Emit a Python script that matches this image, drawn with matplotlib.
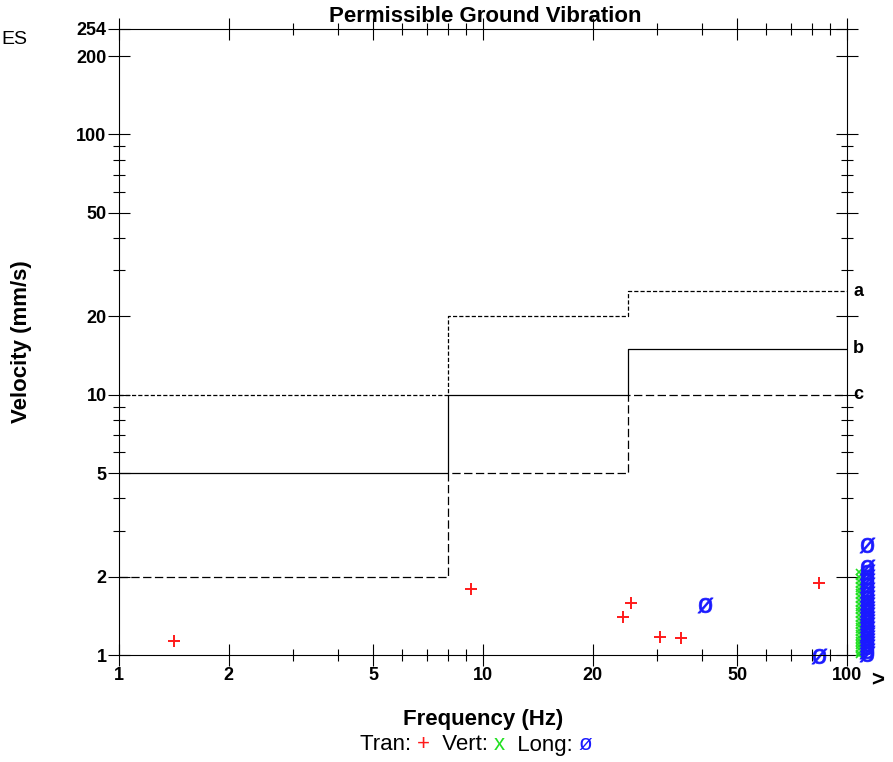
import numpy as np
import matplotlib
matplotlib.use("Agg")
import matplotlib.pyplot as plt
from matplotlib.ticker import FixedLocator, FixedFormatter, NullFormatter
from matplotlib.offsetbox import TextArea, HPacker, AnnotationBbox

plt.rcParams['font.family'] = ['Liberation Sans', 'DejaVu Sans']
plt.rcParams['lines.scale_dashes'] = False

# limit curves (step levels between breakpoints)
freq_breaks = [1, 8, 25, 100]
level_a = [10, 20, 25]
level_b = [5, 10, 15]
level_c = [2, 5, 10]

# measured peaks
tran_freq = [1.42, 9.25, 24.2, 25.5, 30.6, 35.0, 84.0]
tran_vel = [1.13, 1.80, 1.40, 1.58, 1.17, 1.16, 1.89]

long_freq = [40.7, 84.0]
long_vel = [1.56, 0.99]

# values above 100 Hz (drawn past the right edge)
vert_over_vel = [1.0, 1.02, 1.05, 1.08, 1.11, 1.14, 1.17, 1.21, 1.25, 1.29, 1.33,
                 1.37, 1.42, 1.47, 1.52, 1.57, 1.62, 1.68, 1.74, 1.80, 1.86, 1.93,
                 2.0, 2.08]
long_over_vel = [1.01, 1.04, 1.07, 1.10, 1.13, 1.16, 1.19, 1.22, 1.26, 1.30, 1.34,
                 1.38, 1.42, 1.46, 1.50, 1.55, 1.60, 1.66, 1.72, 1.78, 1.85, 1.92,
                 2.0, 2.08, 2.18, 2.64]

x_major = [1, 2, 5, 10, 20, 50, 100]
y_major = [1, 2, 5, 10, 20, 50, 100, 200, 254]
minor_ticks = [3, 4, 6, 7, 8, 9, 30, 40, 60, 70, 80, 90]

red = '#ff1a1a'
green = '#22e022'
blue = '#1a1aff'
o_slash = r'$\mathregular{ø}$'

W, H = 893, 762
fig = plt.figure(figsize=(W / 100, H / 100), dpi=100)
ax = fig.add_axes([119 / W, 1 - 655 / H, (847 - 119) / W, (655 - 29) / H])
ax.set_xscale('log')
ax.set_yscale('log')

def step_xy(levels):
    return freq_breaks, list(levels) + [levels[-1]]

xa, ya = step_xy(level_a)
ax.step(xa, ya, where='post', color='black', lw=0.9, dashes=(3, 1.5))
xb, yb = step_xy(level_b)
ax.step(xb, yb, where='post', color='black', lw=0.9)
xc, yc = step_xy(level_c)
ax.step(xc, yc, where='post', color='black', lw=0.9, dashes=(6, 2.5))

ax.plot(tran_freq, tran_vel, ls='none', marker='+', ms=9, mew=1.4, color=red, clip_on=False)
ax.plot(long_freq, long_vel, ls='none', marker=o_slash, ms=11, mew=0.5, color=blue,
        clip_on=False)
ax.plot([108] * len(vert_over_vel), vert_over_vel, ls='none', marker='x', ms=5, mew=1.2,
        color=green, clip_on=False)
ax.plot([113.5] * len(long_over_vel), long_over_vel, ls='none', marker=o_slash, ms=11,
        mew=0.5, color=blue, clip_on=False)

ax.set_xlim(1, 100)
ax.set_ylim(1, 254)

ax.xaxis.set_major_locator(FixedLocator(x_major))
ax.xaxis.set_major_formatter(FixedFormatter([f"{v:g}" for v in x_major]))
ax.xaxis.set_minor_locator(FixedLocator(minor_ticks))
ax.xaxis.set_minor_formatter(NullFormatter())
ax.yaxis.set_major_locator(FixedLocator(y_major))
ax.yaxis.set_major_formatter(FixedFormatter([f"{v:g}" for v in y_major]))
ax.yaxis.set_minor_locator(FixedLocator(minor_ticks))
ax.yaxis.set_minor_formatter(NullFormatter())

ax.tick_params(which='both', direction='inout', top=True, right=True,
               labeltop=False, labelright=False, color='black')
ax.tick_params(which='major', length=16, width=0.8, pad=1, labelsize=13)
ax.tick_params(which='minor', length=8, width=0.8)
for lab in ax.get_xticklabels() + ax.get_yticklabels():
    lab.set_fontweight('bold')
for sp in ax.spines.values():
    sp.set_linewidth(0.8)

for lvl, name in zip([level_a[-1], level_b[-1], level_c[-1]], ['a', 'b', 'c']):
    ax.text(104, lvl, name, fontsize=13, fontweight='bold', va='center', ha='left',
            clip_on=False)

fig.text(485 / W, 1 - 17 / H, 'Permissible Ground Vibration', ha='center', va='center',
         fontsize=16, fontweight='bold')
fig.text(22 / W, 1 - 342 / H, 'Velocity (mm/s)', rotation=90, ha='center', va='center',
         fontsize=16, fontweight='bold')
fig.text(483 / W, 1 - 720 / H, 'Frequency (Hz)', ha='center', va='center',
         fontsize=16, fontweight='bold')
fig.text(878 / W, 1 - 681 / H, '>', ha='center', va='center', fontsize=16, fontweight='bold')
fig.text(1 / W, 1 - 40 / H, 'ES', ha='left', va='center', fontsize=14)

parts = [("Tran: ", 'black'), ("+", red), ("  Vert: ", 'black'), ("x", green),
         ("  Long: ", 'black'), ("ø", blue)]
boxes = [TextArea(s, textprops=dict(color=c, fontsize=16)) for s, c in parts]
pack = HPacker(children=boxes, align='baseline', pad=0, sep=0)
ab = AnnotationBbox(pack, (476 / W, 1 - 745 / H), xycoords='figure fraction',
                    frameon=False, box_alignment=(0.5, 0.5))
fig.add_artist(ab)

fig.savefig('out.png', dpi=100)
